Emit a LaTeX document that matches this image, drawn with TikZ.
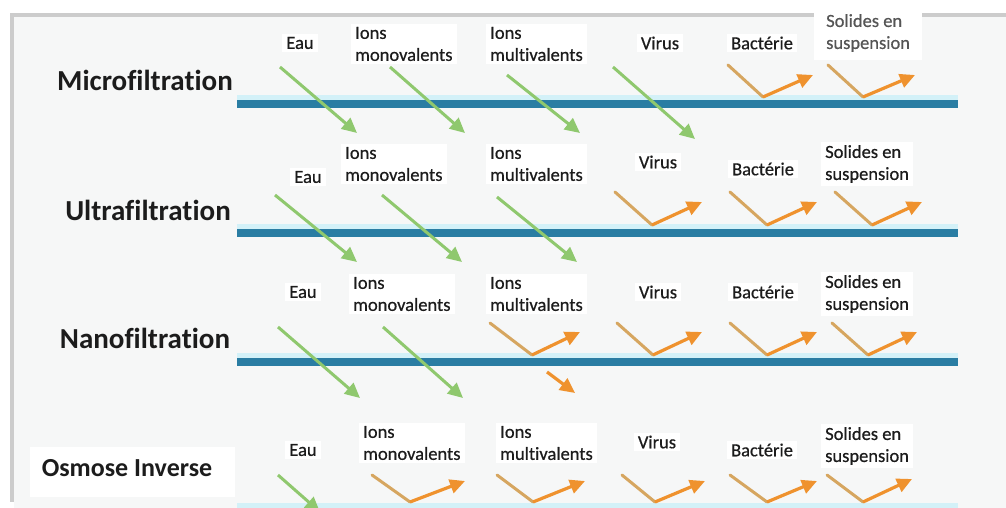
\documentclass[tikz,border=0pt]{standalone}
\usepackage{fontspec}
\setmainfont{Carlito}[Ligatures=NoCommon]
\newfontfamily\labelfont{Carlito}[Ligatures=NoCommon, FakeBold=0.6]
\usetikzlibrary{arrows.meta}
\definecolor{membraneblue}{HTML}{2A7DA3}
\definecolor{glowblue}{HTML}{D3F1F8}
\definecolor{passgreen}{HTML}{8FC86E}
\definecolor{blockorange}{HTML}{EF922E}
\definecolor{blocktan}{HTML}{D6A660}
\definecolor{panelgray}{HTML}{F6F7F7}
\definecolor{inktext}{HTML}{1C1C1C}

\begin{document}
\begin{tikzpicture}[
    x=1pt, y=-1pt,
    solute/.style={fill=white, text=inktext, inner xsep=4pt, inner ysep=3pt, font=\labelfont\fontsize{18.5}{22}\selectfont},
    solutes/.style={solute, align=left, anchor=west},
    process/.style={text=inktext, font=\bfseries\fontsize{29}{32}\selectfont},
    membrane/.style={draw=membraneblue, line width=8pt},
    glow/.style={draw=glowblue, line width=5pt},
    pass/.style={draw=passgreen, line width=3pt, -{Triangle[length=15pt, width=14pt]}},
    stopdown/.style={draw=blocktan, line width=3pt, line cap=round},
    stopup/.style={draw=blockorange, line width=3.2pt, -{Triangle[length=15pt, width=14pt]}}
]
\useasboundingbox (0,0) rectangle (1006,508);
\clip (0,0) rectangle (1006,508);
% frame
\fill[white] (0,0) rectangle (1006,508);
\fill[gray!40] (10,13) rectangle (1006,502);
\fill[panelgray] (14,17) rectangle (1006,508);

% membranes
\draw[glow] (237,97.5) -- (958,97.5);
\draw[membrane] (237,104) -- (958,104);
\draw[glow] (237,226.5) -- (958,226.5);
\draw[membrane] (237,233) -- (958,233);
\draw[glow] (237,355.5) -- (958,355.5);
\draw[membrane] (237,362) -- (958,362);
\fill[glowblue] (237,503) rectangle (958,510);

% process names
\node[process] (micro) at (145,80) {Microfiltration};
\node[process] (ultra) at (148,210) {Ultrafiltration};
\node[process] (nano) at (145,338) {Nanofiltration};
\node[fill=white, minimum width=205pt, minimum height=50pt] (osmosebox) at (132,472) {};
\node[text=inktext, font=\bfseries\fontsize{26}{30}\selectfont] (osmose) at (127,468) {Osmose Inverse};

% row 1
\node[solute] (eau1) at (300,43) {Eau};
\node[solutes] (mono1) at (351,44) {Ions\\monovalents};
\node[solutes] (multi1) at (486,44) {Ions\\multivalents};
\node[solute] (virus1) at (660,43) {Virus};
\node[solute] (bact1) at (762,43) {Bactérie};
\node[solutes, text=inktext!75, inner xsep=12pt, inner ysep=8pt] (sol1) at (814,33) {Solides en\\suspension};

% row 2
\node[solute] (eau2) at (308,177) {Eau};
\node[solutes] (mono2) at (341,164) {Ions\\monovalents};
\node[solutes] (multi2) at (486,164) {Ions\\multivalents};
\node[solute] (virus2) at (658,162) {Virus};
\node[solute] (bact2) at (763,169) {Bactérie};
\node[solutes] (sol2) at (821,164) {Solides en\\suspension};

% row 3
\node[solute] (eau3) at (303,292) {Eau};
\node[solutes] (mono3) at (349,294) {Ions\\monovalents};
\node[solutes] (multi3) at (486,294) {Ions\\multivalents};
\node[solute] (virus3) at (658,292) {Virus};
\node[solute] (bact3) at (763,292) {Bactérie};
\node[solutes] (sol3) at (821,294) {Solides en\\suspension};

% row 4
\node[solute] (eau4) at (303,450) {Eau};
\node[solutes] (mono4) at (359,443) {Ions\\monovalents};
\node[solutes] (multi4) at (496,443) {Ions\\multivalents};
\node[solute] (virus4) at (657,442) {Virus};
\node[solute] (bact4) at (762,450) {Bactérie};
\node[solutes] (sol4) at (821,446) {Solides en\\suspension};

% passing through
\foreach \ax/\ay/\bx/\by in {280/67/357/133, 390/67/465/133, 507/75/580/133, 613/67/695/139,
    275/195/357/262, 382/195/462/262, 497/197/577/262,
    278/327/360/398, 383/327/463/398, 278/475/320/512}
  \draw[pass] (\ax,\ay) -- (\bx,\by);

% retained
\foreach \ax/\ay/\bx/\by/\cx/\cy in {728/65/763/97/813/75, 828/65/863/97/915/75,
    615/192/652/225/702/202, 730/192/767/225/817/202, 835/192/872/225/922/202,
    490/323/532/355/580/332, 617/323/653/355/702/332, 730/323/767/355/817/332, 832/323/868/355/917/332,
    372/475/410/502/465/481, 497/475/533/502/585/481, 622/475/655/502/705/481, 730/475/767/502/817/481, 827/475/863/502/912/479}
{
  \draw[stopdown] (\ax,\ay) -- (\bx,\by);
  \draw[stopup] (\bx,\by) -- (\cx,\cy);
}
\draw[stopup] (547,372) -- (575,393);
\end{tikzpicture}
\end{document}
